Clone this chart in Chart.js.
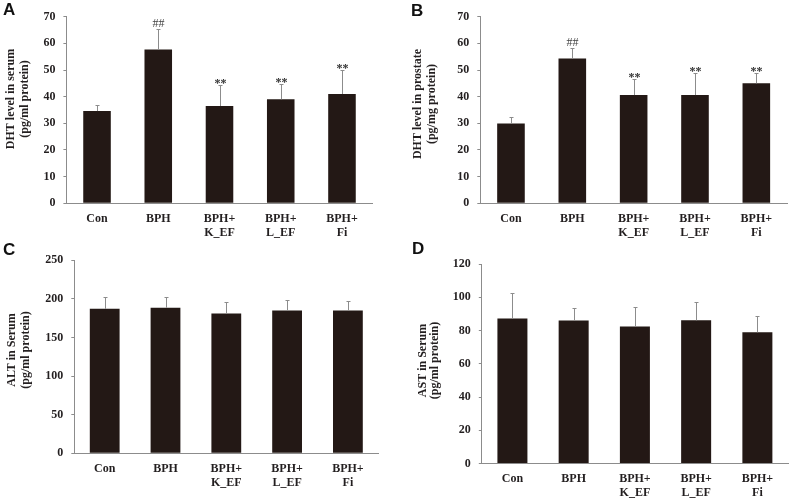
<!DOCTYPE html>
<html>
<head>
<meta charset="utf-8">
<script src="https://cdn.jsdelivr.net/npm/chart.js@4/dist/chart.umd.min.js"></script>
<style>
  body { margin: 0; background: #fff; }
  #wrap { position: relative; width: 791px; height: 500px; overflow: hidden; }
  canvas { position: absolute; }
  .panel { position: absolute; font: bold 17px "Liberation Sans", Arial, sans-serif; line-height: 17px; color: #111; }
</style>
</head>
<body>
<div id="wrap">
  <canvas id="chartA" width="395" height="245" style="left:0;top:0"></canvas>
  <canvas id="chartB" width="396" height="245" style="left:395px;top:0"></canvas>
  <canvas id="chartC" width="395" height="255" style="left:0;top:245px"></canvas>
  <canvas id="chartD" width="396" height="255" style="left:395px;top:245px"></canvas>
  <div class="panel" style="left:3px;top:1px">A</div>
  <div class="panel" style="left:411px;top:2px">B</div>
  <div class="panel" style="left:3px;top:241px">C</div>
  <div class="panel" style="left:412px;top:240px">D</div>
</div>
<script>
// Groups (same for all four panels)
const groups = ['Con', 'BPH', ['BPH+', 'K_EF'], ['BPH+', 'L_EF'], ['BPH+', 'Fi']];

// A: DHT in serum
const serumDHT = [34.6, 57.7, 36.5, 39.0, 41.0];
const serumDHTErr = [2.4, 7.5, 7.8, 5.6, 8.9];
const serumDHTMarks = ['', '##', '**', '**', '**'];

// B: DHT in prostate
const prostateDHT = [29.9, 54.3, 40.6, 40.6, 45.0];
const prostateDHTErr = [2.5, 3.8, 6.2, 8.1, 3.7];
const prostateDHTMarks = ['', '##', '**', '**', '**'];

// C: ALT in serum
const serumALT = [187.0, 188.5, 181.0, 185.0, 185.0];
const serumALTErr = [16.0, 13.5, 15.2, 13.5, 12.8];

// D: AST in serum
const serumAST = [87.2, 86.0, 82.4, 86.1, 78.9];
const serumASTErr = [15.6, 7.3, 11.6, 10.9, 10.1];

const serif = '"Liberation Serif", "Times New Roman", serif';
const ink = '#231f20';
const axisGray = '#8c8c8c';
const barColor = '#231815';

// error bars (upper only) + significance marks
const errorBarPlugin = {
    id: 'errorBars',
    afterDatasetsDraw(chart, args, o) {
        const ctx = chart.ctx;
        const y = chart.scales.y;
        const meta = chart.getDatasetMeta(0);
        const vals = chart.data.datasets[0].data;
        ctx.save();
        ctx.strokeStyle = axisGray;
        ctx.lineWidth = 1;
        o.errors.forEach((e, i) => {
            const bx = Math.round(meta.data[i].x) + 0.5;
            const y0 = y.getPixelForValue(vals[i]);
            const y1 = Math.round(y.getPixelForValue(vals[i] + e)) + 0.5;
            ctx.beginPath();
            ctx.moveTo(bx, y0);
            ctx.lineTo(bx, y1);
            ctx.moveTo(bx - 2, y1);
            ctx.lineTo(bx + 2, y1);
            ctx.stroke();
            const m = o.marks ? o.marks[i] : '';
            if (m) {
                ctx.fillStyle = m === '##' ? '#444' : '#333';
                ctx.font = (m === '##' ? '' : 'bold ') + '12px ' + serif;
                ctx.textAlign = 'center';
                ctx.textBaseline = 'alphabetic';
                ctx.fillText(m, bx, m === '##' ? y1 - 3 : y1 + 1.5);
            }
        });
        ctx.restore();
    }
};

// two-line rotated y title
const yTitlePlugin = {
    id: 'yTitle',
    afterDraw(chart, args, o) {
        const ctx = chart.ctx;
        ctx.save();
        ctx.fillStyle = ink;
        ctx.font = 'bold 12px ' + serif;
        ctx.textAlign = 'center';
        ctx.textBaseline = 'middle';
        o.lines.forEach((txt, i) => {
            ctx.save();
            ctx.translate(o.xs[i], o.cy);
            ctx.rotate(-Math.PI / 2);
            ctx.fillText(txt, 0, 0);
            ctx.restore();
        });
        ctx.restore();
    }
};

function makeChart(id, values, errors, marks, cfg) {
    return new Chart(document.getElementById(id), {
        type: 'bar',
        data: {
            labels: groups,
            datasets: [{
                data: values,
                backgroundColor: barColor,
                borderWidth: 0,
                barPercentage: cfg.barPct,
                categoryPercentage: 1
            }]
        },
        options: {
            responsive: false,
            animation: false,
            devicePixelRatio: 1,
            layout: { padding: { top: cfg.top, right: cfg.right, left: 0, bottom: 0 } },
            plugins: {
                legend: { display: false },
                tooltip: { enabled: false },
                errorBars: { errors: errors, marks: marks },
                yTitle: cfg.title
            },
            scales: {
                x: {
                    grid: { display: false, drawTicks: false },
                    border: { display: true, color: axisGray, width: 1 },
                    ticks: {
                        color: ink,
                        padding: 9,
                        maxRotation: 0,
                        autoSkip: false,
                        font: { family: serif, weight: 'bold', size: 12, lineHeight: 1.12 }
                    },
                    afterFit: s => { s.height = cfg.bottom; }
                },
                y: {
                    min: 0,
                    max: cfg.max,
                    grid: { drawOnChartArea: false, drawTicks: true, tickLength: 3, color: axisGray },
                    border: { display: true, color: axisGray, width: 1 },
                    ticks: {
                        stepSize: cfg.step,
                        color: ink,
                        padding: 8,
                        font: { family: serif, weight: 'bold', size: 12 }
                    },
                    afterFit: s => { s.width = cfg.left; }
                }
            }
        },
        plugins: [errorBarPlugin, yTitlePlugin]
    });
}

makeChart('chartA', serumDHT, serumDHTErr, serumDHTMarks, {
    left: 66.4, right: 22.4, top: 16.7, bottom: 41.7, max: 70, step: 10, barPct: 0.45,
    title: { lines: ['DHT level in serum', '(pg/ml protein)'], xs: [10.5, 25.3], cy: 99 }
});
makeChart('chartB', prostateDHT, prostateDHTErr, prostateDHTMarks, {
    left: 85.3, right: 4, top: 16.7, bottom: 41.7, max: 70, step: 10, barPct: 0.45,
    title: { lines: ['DHT level in prostate', '(pg/mg protein)'], xs: [23, 36.5], cy: 104 }
});
makeChart('chartC', serumALT, serumALTErr, null, {
    left: 74.3, right: 16.7, top: 8.3, bottom: 46.7, max: 250, step: 50, barPct: 0.49,
    title: { lines: ['ALT in Serum', '(pg/ml protein)'], xs: [11.7, 26], cy: 105 }
});
makeChart('chartD', serumAST, serumASTErr, null, {
    left: 86.8, right: 3, top: 19, bottom: 36.5, max: 120, step: 20, barPct: 0.49,
    title: { lines: ['AST in Serum', '(pg/ml protein)'], xs: [28.3, 40], cy: 115.5 }
});
</script>
</body>
</html>
